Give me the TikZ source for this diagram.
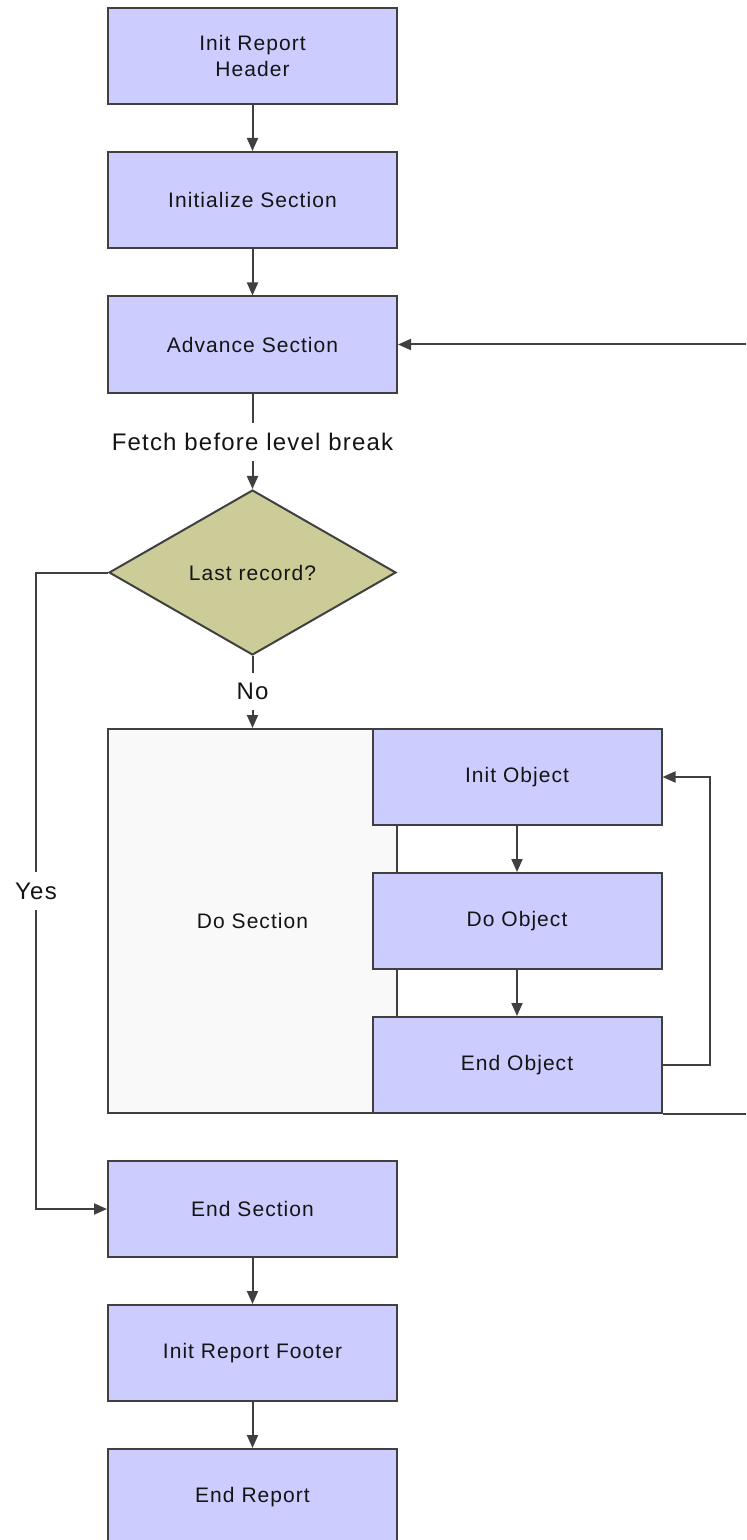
\documentclass[tikz,border=0pt]{standalone}
\usepackage{fontspec}
\setmainfont{Liberation Sans}[LetterSpace=5]
\usetikzlibrary{arrows.meta,shapes.geometric}

\definecolor{boxfill}{HTML}{CCCCFF}
\definecolor{decfill}{HTML}{CCCC99}
\definecolor{secfill}{HTML}{F9F9F9}
\definecolor{edge}{HTML}{404040}
\definecolor{ink}{HTML}{141414}

\begin{document}
\begin{tikzpicture}[x=0.5pt,y=-0.5pt,
  boxtext/.style={font=\fontsize{10.5}{13}\selectfont, text=ink, align=center},
  stepbox/.style={boxtext, draw=edge, line width=1pt, fill=boxfill,
    minimum width=144.5pt, minimum height=48pt, inner sep=0pt},
  decision/.style={boxtext, diamond, draw=edge, line width=1pt, fill=decfill,
    minimum width=143.5pt, minimum height=82.5pt, inner sep=0pt},
  container/.style={boxtext, draw=edge, line width=1pt, fill=secfill,
    minimum width=144.5pt, minimum height=192pt, inner sep=0pt},
  lbl/.style={font=\fontsize{12}{14}\selectfont, text=ink, inner sep=0pt,
    minimum height=18.5pt},
  link/.style={draw=edge, line width=1pt},
  flow/.style={link, -{Triangle[length=6.5pt,width=5.5pt]}}]

  \useasboundingbox (0,0) rectangle (746,1540);
  \clip (0,0) rectangle (746,1540);

  % main column
  \node[stepbox] (hdr)  at (252.5,56)    {Init Report\\Header};
  \node[stepbox] (init) at (252.5,200)   {Initialize Section};
  \node[stepbox] (adv)  at (252.5,344.5) {Advance Section};
  \node[lbl]     (fetch) at (252.5,442)  {Fetch before level break};
  \node[decision] (dia) at (252.5,572.5) {Last record?};
  \node[lbl]     (no)   at (252.5,691.5) {No};

  % section body with its object steps
  \node[container] (dosec) at (252.5,921) {Do Section};
  \node[stepbox] (iobj) at (517,777)  {Init Object};
  \node[stepbox] (dobj) at (517,921)  {Do Object};
  \node[stepbox] (eobj) at (517,1065) {End Object};

  \node[stepbox] (endsec) at (252.5,1209) {End Section};
  \node[stepbox] (foot)   at (252.5,1353) {Init Report Footer};
  \node[stepbox] (endrep) at (252.5,1497) {End Report};

  \node[lbl] (yes) at (36,891) {Yes};
  % return path runs just outside the right edge
  \coordinate (ret) at (780,0);

  % connectors
  \draw[flow] (hdr) -- (init);
  \draw[flow] (init) -- (adv);
  \draw[link] (adv) -- (fetch);
  \draw[flow] (fetch) -- (dia);
  \draw[link] (dia) -- (no);
  \draw[flow] (no) -- (dosec.north -| no);
  \draw[flow] (iobj) -- (dobj);
  \draw[flow] (dobj) -- (eobj);
  \draw[flow] (eobj.east) -- ++(47,0) |- (iobj.east);
  \draw[flow] (eobj.south east) -- (eobj.south east -| ret) |- (adv.east);
  \draw[link] (dia.west) -| (yes.north);
  \draw[flow] (yes.south) |- (endsec.west);
  \draw[flow] (endsec) -- (foot);
  \draw[flow] (foot) -- (endrep);
\end{tikzpicture}
\end{document}
